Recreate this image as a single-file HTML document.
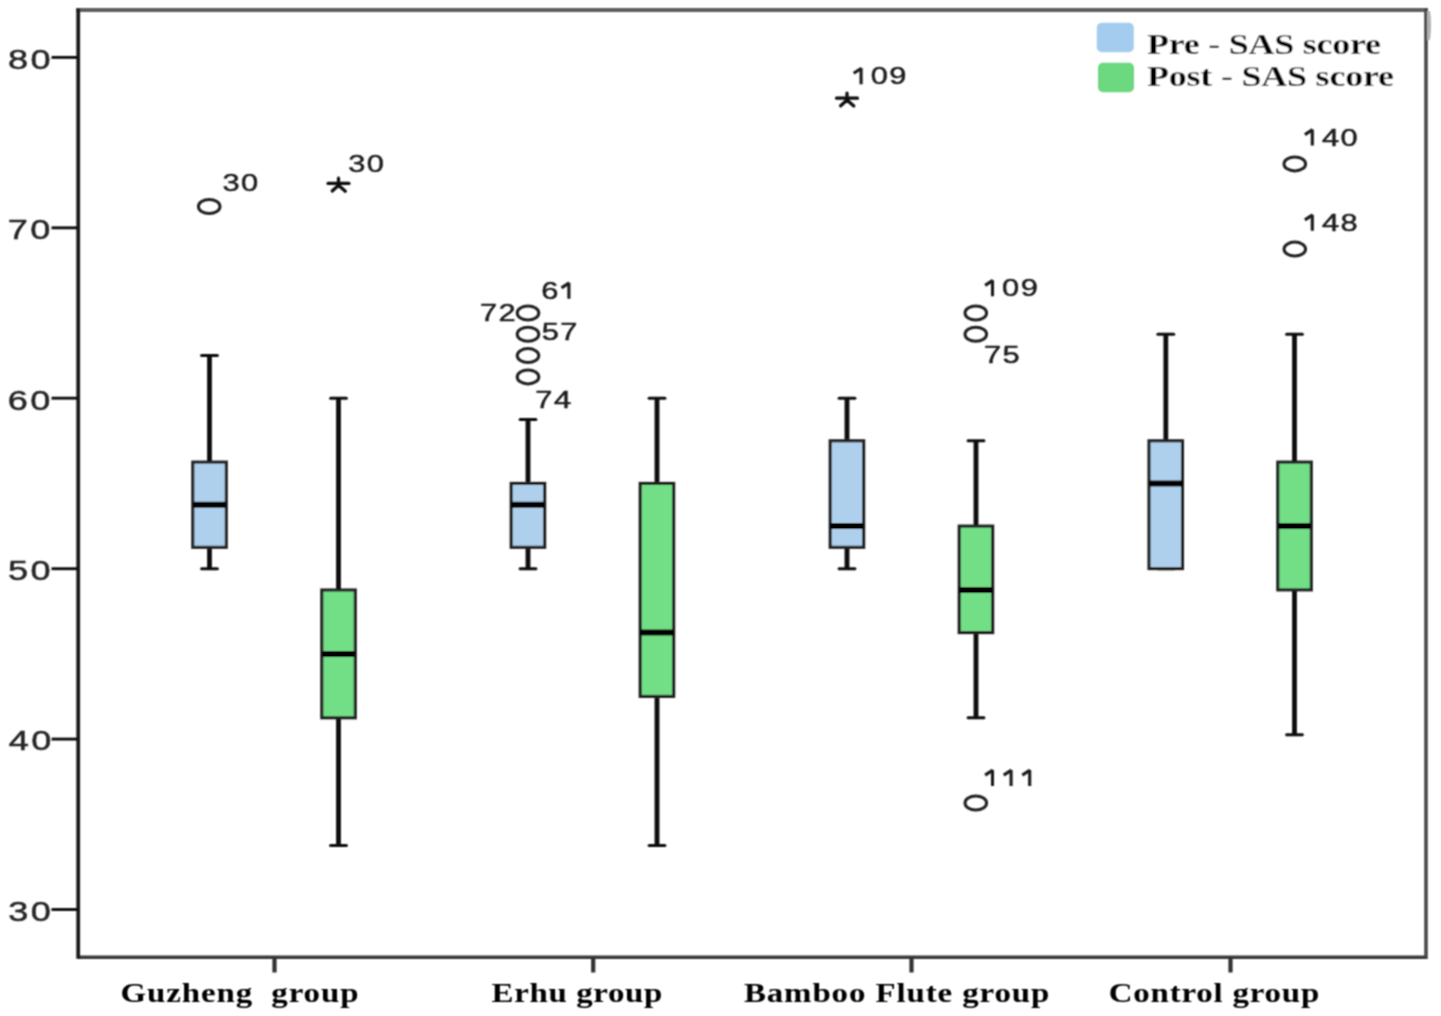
<!DOCTYPE html>
<html><head><meta charset="utf-8"><style>
html,body{margin:0;padding:0;background:#fff;width:1441px;height:1016px;overflow:hidden}
svg{display:block}
.yt{font-family:"Liberation Sans",sans-serif;font-size:28px;fill:#262626;stroke:#262626;stroke-width:0.5px}
.lb{font-family:"Liberation Sans",sans-serif;font-size:24.5px;fill:#1c1c1c;stroke:#1c1c1c;stroke-width:0.45px}
.lg{font-family:"Liberation Serif",serif;font-weight:bold;font-size:29px;fill:#000;stroke:#fff;stroke-width:0.3px}
.xl{font-family:"Liberation Serif",serif;font-weight:bold;font-size:27px;fill:#000}
</style></head><body>
<svg width="1441" height="1016" viewBox="0 0 1441 1016">
<defs><filter id="bl" filterUnits="userSpaceOnUse" x="0" y="0" width="1441" height="1016"><feConvolveMatrix order="3" kernelMatrix="1 2 1 2 4 2 1 2 1" divisor="16" edgeMode="duplicate" preserveAlpha="false"/></filter></defs>
<rect width="1441" height="1016" fill="#fff"/>
<g filter="url(#bl)">
<line x1="78" y1="10" x2="1426" y2="10" stroke="#5e5e5e" stroke-width="3.8" stroke-linecap="square"/>
<line x1="1426" y1="10" x2="1426" y2="957.2" stroke="#4a4a4a" stroke-width="3.6" stroke-linecap="square"/>
<path d="M1427 11 H1430 Q1432 24 1430 40 H1427 Z" fill="#b0b0b0"/>
<line x1="78" y1="957.2" x2="1426" y2="957.2" stroke="#3a3a3a" stroke-width="3.4"/>
<line x1="78.2" y1="8.5" x2="78.2" y2="958.8" stroke="#1e1e1e" stroke-width="3.8"/>
<line x1="51.5" y1="909.5" x2="78" y2="909.5" stroke="#0e0e0e" stroke-width="2.9"/>
<text transform="translate(8.13 920.80) scale(1.29 1)" class="yt">3</text><text transform="translate(30.63 920.80) scale(1.29 1)" class="yt">0</text>
<line x1="51.5" y1="739.1" x2="78" y2="739.1" stroke="#0e0e0e" stroke-width="2.9"/>
<text transform="translate(8.67 750.38) scale(1.29 1)" class="yt">4</text><text transform="translate(31.17 750.38) scale(1.29 1)" class="yt">0</text>
<line x1="51.5" y1="568.7" x2="78" y2="568.7" stroke="#0e0e0e" stroke-width="2.9"/>
<text transform="translate(8.06 579.96) scale(1.29 1)" class="yt">5</text><text transform="translate(30.56 579.96) scale(1.29 1)" class="yt">0</text>
<line x1="51.5" y1="398.2" x2="78" y2="398.2" stroke="#0e0e0e" stroke-width="2.9"/>
<text transform="translate(7.66 409.54) scale(1.29 1)" class="yt">6</text><text transform="translate(30.16 409.54) scale(1.29 1)" class="yt">0</text>
<line x1="51.5" y1="227.8" x2="78" y2="227.8" stroke="#0e0e0e" stroke-width="2.9"/>
<text transform="translate(7.66 239.12) scale(1.29 1)" class="yt">7</text><text transform="translate(30.16 239.12) scale(1.29 1)" class="yt">0</text>
<line x1="51.5" y1="57.4" x2="78" y2="57.4" stroke="#0e0e0e" stroke-width="2.9"/>
<text transform="translate(7.95 68.70) scale(1.29 1)" class="yt">8</text><text transform="translate(30.45 68.70) scale(1.29 1)" class="yt">0</text>
<line x1="274.5" y1="957" x2="274.5" y2="972.5" stroke="#333" stroke-width="4.2"/>
<line x1="593.2" y1="957" x2="593.2" y2="972.5" stroke="#333" stroke-width="4.2"/>
<line x1="911.5" y1="957" x2="911.5" y2="972.5" stroke="#333" stroke-width="4.2"/>
<line x1="1230.5" y1="957" x2="1230.5" y2="972.5" stroke="#333" stroke-width="4.2"/>
<line x1="209.5" y1="355.6" x2="209.5" y2="462.1" stroke="#0e0e0e" stroke-width="4.8"/>
<line x1="209.5" y1="547.4" x2="209.5" y2="568.7" stroke="#0e0e0e" stroke-width="4.8"/>
<line x1="201.6" y1="355.6" x2="217.4" y2="355.6" stroke="#0e0e0e" stroke-width="3.0" stroke-linecap="round"/>
<line x1="201.6" y1="568.7" x2="217.4" y2="568.7" stroke="#0e0e0e" stroke-width="3.0" stroke-linecap="round"/>
<rect x="192.8" y="462.1" width="33.5" height="85.2" fill="#aed0ed" stroke="#222" stroke-width="3.1"/>
<line x1="192.8" y1="504.8" x2="226.2" y2="504.8" stroke="#000" stroke-width="6"/>
<line x1="338.5" y1="398.2" x2="338.5" y2="590.0" stroke="#0e0e0e" stroke-width="4.8"/>
<line x1="338.5" y1="717.8" x2="338.5" y2="845.6" stroke="#0e0e0e" stroke-width="4.8"/>
<line x1="330.6" y1="398.2" x2="346.4" y2="398.2" stroke="#0e0e0e" stroke-width="3.0" stroke-linecap="round"/>
<line x1="330.6" y1="845.6" x2="346.4" y2="845.6" stroke="#0e0e0e" stroke-width="3.0" stroke-linecap="round"/>
<rect x="321.8" y="590.0" width="33.5" height="127.8" fill="#72de85" stroke="#222" stroke-width="3.1"/>
<line x1="321.8" y1="653.9" x2="355.2" y2="653.9" stroke="#000" stroke-width="6"/>
<line x1="528" y1="419.5" x2="528" y2="483.4" stroke="#0e0e0e" stroke-width="4.8"/>
<line x1="528" y1="547.4" x2="528" y2="568.7" stroke="#0e0e0e" stroke-width="4.8"/>
<line x1="520.1" y1="419.5" x2="535.9" y2="419.5" stroke="#0e0e0e" stroke-width="3.0" stroke-linecap="round"/>
<line x1="520.1" y1="568.7" x2="535.9" y2="568.7" stroke="#0e0e0e" stroke-width="3.0" stroke-linecap="round"/>
<rect x="511.2" y="483.4" width="33.5" height="63.9" fill="#aed0ed" stroke="#222" stroke-width="3.1"/>
<line x1="511.2" y1="504.8" x2="544.8" y2="504.8" stroke="#000" stroke-width="6"/>
<line x1="657" y1="398.2" x2="657" y2="483.4" stroke="#0e0e0e" stroke-width="4.8"/>
<line x1="657" y1="696.5" x2="657" y2="845.6" stroke="#0e0e0e" stroke-width="4.8"/>
<line x1="649.1" y1="398.2" x2="664.9" y2="398.2" stroke="#0e0e0e" stroke-width="3.0" stroke-linecap="round"/>
<line x1="649.1" y1="845.6" x2="664.9" y2="845.6" stroke="#0e0e0e" stroke-width="3.0" stroke-linecap="round"/>
<rect x="640.2" y="483.4" width="33.5" height="213.0" fill="#72de85" stroke="#222" stroke-width="3.1"/>
<line x1="640.2" y1="632.6" x2="673.8" y2="632.6" stroke="#000" stroke-width="6"/>
<line x1="847" y1="398.2" x2="847" y2="440.8" stroke="#0e0e0e" stroke-width="4.8"/>
<line x1="847" y1="547.4" x2="847" y2="568.7" stroke="#0e0e0e" stroke-width="4.8"/>
<line x1="839.1" y1="398.2" x2="854.9" y2="398.2" stroke="#0e0e0e" stroke-width="3.0" stroke-linecap="round"/>
<line x1="839.1" y1="568.7" x2="854.9" y2="568.7" stroke="#0e0e0e" stroke-width="3.0" stroke-linecap="round"/>
<rect x="830.2" y="440.8" width="33.5" height="106.5" fill="#aed0ed" stroke="#222" stroke-width="3.1"/>
<line x1="830.2" y1="526.1" x2="863.8" y2="526.1" stroke="#000" stroke-width="6"/>
<line x1="976" y1="440.8" x2="976" y2="526.1" stroke="#0e0e0e" stroke-width="4.8"/>
<line x1="976" y1="632.6" x2="976" y2="717.8" stroke="#0e0e0e" stroke-width="4.8"/>
<line x1="968.1" y1="440.8" x2="983.9" y2="440.8" stroke="#0e0e0e" stroke-width="3.0" stroke-linecap="round"/>
<line x1="968.1" y1="717.8" x2="983.9" y2="717.8" stroke="#0e0e0e" stroke-width="3.0" stroke-linecap="round"/>
<rect x="959.2" y="526.1" width="33.5" height="106.5" fill="#72de85" stroke="#222" stroke-width="3.1"/>
<line x1="959.2" y1="590.0" x2="992.8" y2="590.0" stroke="#000" stroke-width="6"/>
<line x1="1165.8" y1="334.3" x2="1165.8" y2="440.8" stroke="#0e0e0e" stroke-width="4.8"/>
<line x1="1165.8" y1="568.7" x2="1165.8" y2="568.7" stroke="#0e0e0e" stroke-width="4.8"/>
<line x1="1157.8999999999999" y1="334.3" x2="1173.7" y2="334.3" stroke="#0e0e0e" stroke-width="3.0" stroke-linecap="round"/>
<line x1="1157.8999999999999" y1="568.7" x2="1173.7" y2="568.7" stroke="#0e0e0e" stroke-width="3.0" stroke-linecap="round"/>
<rect x="1149.0" y="440.8" width="33.5" height="127.8" fill="#aed0ed" stroke="#222" stroke-width="3.1"/>
<line x1="1149.0" y1="483.4" x2="1182.5" y2="483.4" stroke="#000" stroke-width="6"/>
<line x1="1294.5" y1="334.3" x2="1294.5" y2="462.1" stroke="#0e0e0e" stroke-width="4.8"/>
<line x1="1294.5" y1="590.0" x2="1294.5" y2="734.8" stroke="#0e0e0e" stroke-width="4.8"/>
<line x1="1286.6" y1="334.3" x2="1302.4" y2="334.3" stroke="#0e0e0e" stroke-width="3.0" stroke-linecap="round"/>
<line x1="1286.6" y1="734.8" x2="1302.4" y2="734.8" stroke="#0e0e0e" stroke-width="3.0" stroke-linecap="round"/>
<rect x="1277.8" y="462.1" width="33.5" height="127.8" fill="#72de85" stroke="#222" stroke-width="3.1"/>
<line x1="1277.8" y1="526.1" x2="1311.2" y2="526.1" stroke="#000" stroke-width="6"/>
<ellipse cx="209.2" cy="206.5" rx="10.8" ry="7.0" fill="none" stroke="#222" stroke-width="3.0"/>
<ellipse cx="528" cy="313.0" rx="10.8" ry="7.0" fill="none" stroke="#222" stroke-width="3.0"/>
<ellipse cx="528" cy="334.3" rx="10.8" ry="7.0" fill="none" stroke="#222" stroke-width="3.0"/>
<ellipse cx="528" cy="355.6" rx="10.8" ry="7.0" fill="none" stroke="#222" stroke-width="3.0"/>
<ellipse cx="528" cy="376.9" rx="10.8" ry="7.0" fill="none" stroke="#222" stroke-width="3.0"/>
<ellipse cx="975.8" cy="313.0" rx="10.8" ry="7.0" fill="none" stroke="#222" stroke-width="3.0"/>
<ellipse cx="975.8" cy="334.3" rx="10.8" ry="7.0" fill="none" stroke="#222" stroke-width="3.0"/>
<ellipse cx="975.8" cy="803.0" rx="10.8" ry="7.0" fill="none" stroke="#222" stroke-width="3.0"/>
<ellipse cx="1294.8" cy="163.9" rx="10.8" ry="7.0" fill="none" stroke="#222" stroke-width="3.0"/>
<ellipse cx="1294.8" cy="249.1" rx="10.8" ry="7.0" fill="none" stroke="#222" stroke-width="3.0"/>
<path d="M328.0 183.4 H349.0 M338.5 178.2 V185.2 M332.2 191.0 L338.5 185.2 L345.3 191.2" fill="none" stroke="#0a0a0a" stroke-width="3.2" stroke-linecap="round" stroke-linejoin="round"/>
<path d="M836.5 98.2 H857.5 M847.0 93.0 V100.0 M840.7 105.8 L847.0 100.0 L853.8 106.0" fill="none" stroke="#0a0a0a" stroke-width="3.2" stroke-linecap="round" stroke-linejoin="round"/>
<text transform="translate(222.40 191.40) scale(1.26 1)" class="lb">3</text><text transform="translate(241.00 191.40) scale(1.26 1)" class="lb">0</text>
<text transform="translate(348.20 171.50) scale(1.26 1)" class="lb">3</text><text transform="translate(366.80 171.50) scale(1.26 1)" class="lb">0</text>
<text transform="translate(541.30 298.80) scale(1.26 1)" class="lb">6</text><path d="M568.9 298.8 V282.7 M561.5 287.9 L569.2 282.9" fill="none" stroke="#1c1c1c" stroke-width="3.1" stroke-linecap="butt"/>
<text transform="translate(480.00 320.90) scale(1.26 1)" class="lb">7</text><text transform="translate(498.60 320.90) scale(1.26 1)" class="lb">2</text>
<text transform="translate(541.70 340.00) scale(1.26 1)" class="lb">5</text><text transform="translate(560.30 340.00) scale(1.26 1)" class="lb">7</text>
<text transform="translate(535.30 408.00) scale(1.26 1)" class="lb">7</text><text transform="translate(553.90 408.00) scale(1.26 1)" class="lb">4</text>
<path d="M861.1 84.2 V68.1 M853.7 73.3 L861.4 68.3" fill="none" stroke="#1c1c1c" stroke-width="3.1" stroke-linecap="butt"/><text transform="translate(870.70 84.20) scale(1.26 1)" class="lb">0</text><text transform="translate(889.30 84.20) scale(1.26 1)" class="lb">9</text>
<path d="M992.5 296.3 V280.2 M985.1 285.4 L992.8 280.4" fill="none" stroke="#1c1c1c" stroke-width="3.1" stroke-linecap="butt"/><text transform="translate(1002.10 296.30) scale(1.26 1)" class="lb">0</text><text transform="translate(1020.70 296.30) scale(1.26 1)" class="lb">9</text>
<text transform="translate(984.00 363.30) scale(1.26 1)" class="lb">7</text><text transform="translate(1002.60 363.30) scale(1.26 1)" class="lb">5</text>
<path d="M992.5 786.0 V769.9 M985.1 775.1 L992.8 770.1" fill="none" stroke="#1c1c1c" stroke-width="3.1" stroke-linecap="butt"/><path d="M1011.1 786.0 V769.9 M1003.7 775.1 L1011.4 770.1" fill="none" stroke="#1c1c1c" stroke-width="3.1" stroke-linecap="butt"/><path d="M1029.7 786.0 V769.9 M1022.3 775.1 L1030.0 770.1" fill="none" stroke="#1c1c1c" stroke-width="3.1" stroke-linecap="butt"/>
<path d="M1312.3 145.5 V129.4 M1304.9 134.6 L1312.6 129.6" fill="none" stroke="#1c1c1c" stroke-width="3.1" stroke-linecap="butt"/><text transform="translate(1321.90 145.50) scale(1.26 1)" class="lb">4</text><text transform="translate(1340.50 145.50) scale(1.26 1)" class="lb">0</text>
<path d="M1312.3 230.8 V214.7 M1304.9 219.9 L1312.6 214.9" fill="none" stroke="#1c1c1c" stroke-width="3.1" stroke-linecap="butt"/><text transform="translate(1321.90 230.80) scale(1.26 1)" class="lb">4</text><text transform="translate(1340.50 230.80) scale(1.26 1)" class="lb">8</text>
<rect x="1096.8" y="22.8" width="37" height="29.4" rx="5" fill="#a4ccee"/>
<rect x="1098" y="62.8" width="36" height="29.4" rx="5" fill="#6cd880"/>
<text transform="translate(1147.00 54.10) scale(1.24 1)" class="lg" textLength="188.71" lengthAdjust="spacing">Pre - SAS score</text>
<text transform="translate(1147.00 86.10) scale(1.24 1)" class="lg" textLength="199.19" lengthAdjust="spacing">Post - SAS score</text>
<text transform="translate(120.50 1002.30) scale(1.22 1)" class="xl" textLength="195.08" lengthAdjust="spacing">Guzheng&#160;&#160;group</text>
<text transform="translate(491.60 1002.30) scale(1.22 1)" class="xl" textLength="139.92" lengthAdjust="spacing">Erhu group</text>
<text transform="translate(743.90 1002.30) scale(1.22 1)" class="xl" textLength="250.33" lengthAdjust="spacing">Bamboo Flute group</text>
<text transform="translate(1108.80 1002.30) scale(1.22 1)" class="xl" textLength="172.54" lengthAdjust="spacing">Control group</text>
</g>
</svg>
</body></html>
